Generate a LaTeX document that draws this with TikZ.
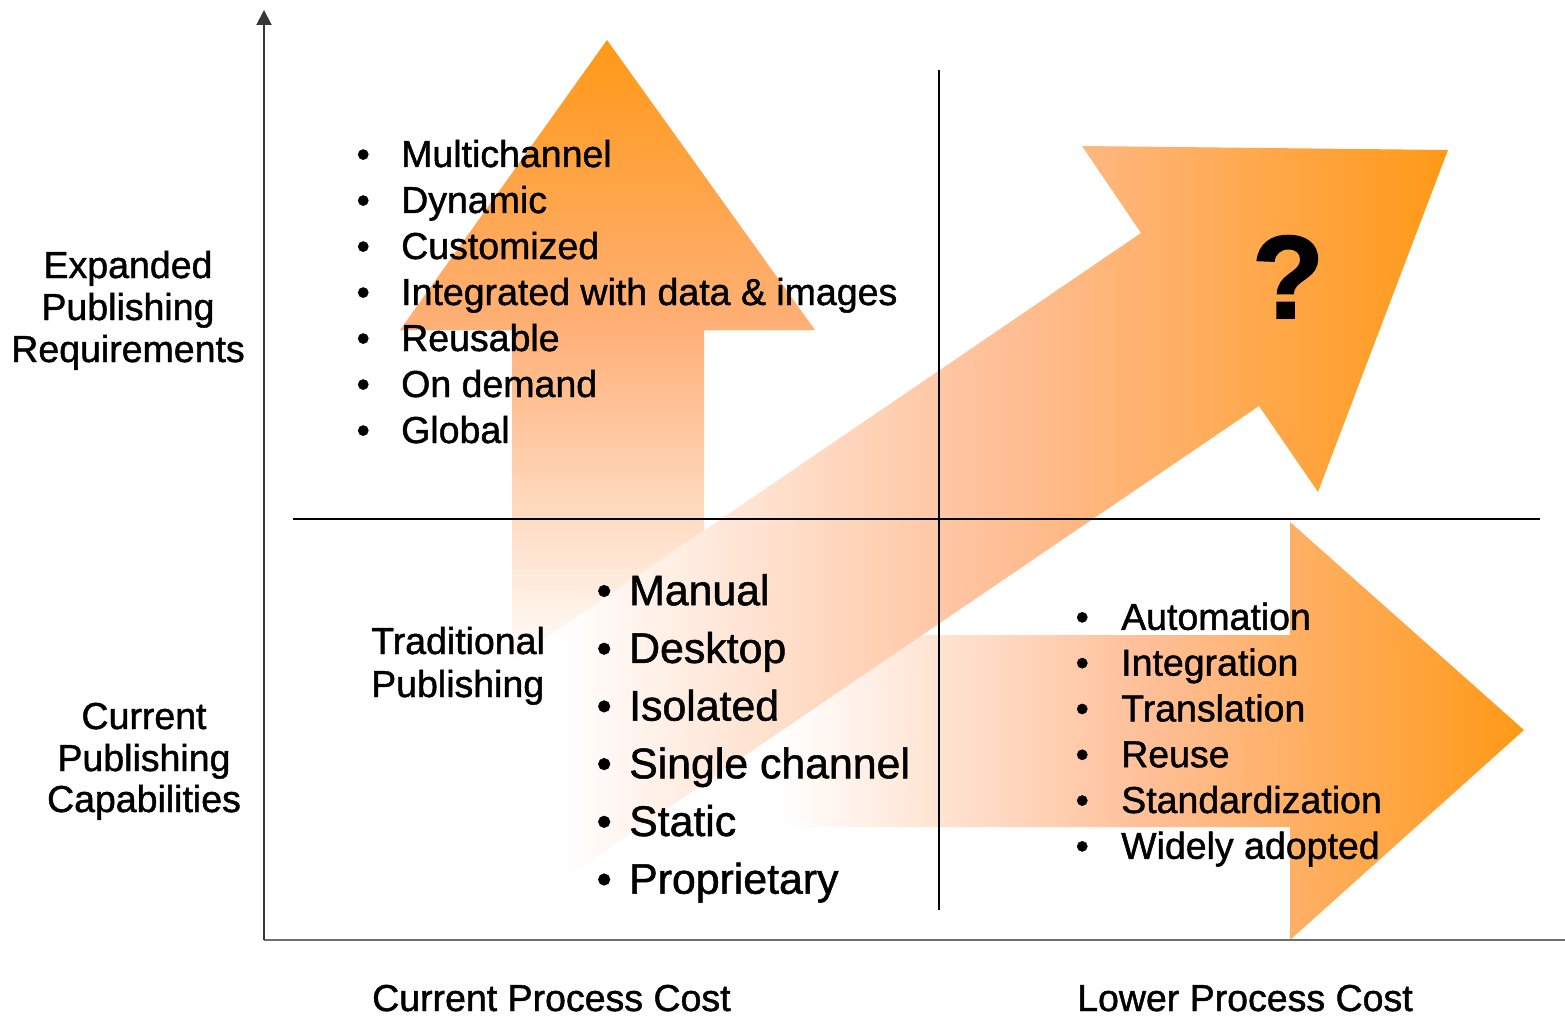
\documentclass[tikz,border=0pt]{standalone}
\usepackage{fontspec}
\setmainfont{Liberation Sans}[FakeBold=1.5]
\newfontfamily\txtfont{Liberation Sans}[FakeBold=1.2]
\usetikzlibrary{arrows.meta}
\definecolor{org}{RGB}{255,153,22}
\definecolor{peach}{RGB}{255,190,150}
\definecolor{orgmid}{RGB}{255,176,120}
\definecolor{axisgray}{RGB}{110,110,110}
\begin{document}
\begin{tikzpicture}[x=1pt,y=-1pt,
  txt/.style={font=\txtfont\fontsize{37.5}{42}\selectfont, inner sep=0pt},
  bigtxt/.style={font=\txtfont\fontsize{42.8}{48}\selectfont, inner sep=0pt},
  qtxt/.style={font=\fontsize{118}{130}\selectfont\bfseries, inner sep=0pt},
  midline/.style={line width=1.5pt, black},
  axisline/.style={line width=2.5pt, axisgray}]
\useasboundingbox (0,0) rectangle (1565,1016);
\fill[white] (0,0) rectangle (1565,1016);

% horizontal arrow (lower right)
\begin{scope}
  \clip (700,635) -- (1290,635) -- (1290,522) -- (1524,730) -- (1290,940) -- (1290,827) -- (700,827) -- cycle;
  \shade[left color=white, right color=org, middle color=peach] (780,500) rectangle (1524,950);
\end{scope}

% vertical arrow (upper left)
\begin{scope}
  \clip (607,40) -- (815,330) -- (704,330) -- (704,760) -- (512,760) -- (512,330) -- (400,330) -- cycle;
  \shade[top color=org, bottom color=orgmid] (390,40) rectangle (830,330);
  \shade[top color=orgmid, bottom color=white] (390,330) rectangle (830,670);
\end{scope}

% diagonal arrow
\begin{scope}
  \clip (515,912) -- (1259,406) -- (1318,492) -- (1448,150) -- (1082,146) -- (1141,233) -- (398,739) -- cycle;
  \fill[white] (390,140) rectangle (1450,920);
  \shade[left color=white, right color=org, middle color=peach] (560,140) rectangle (1448,920);
\end{scope}

% axes and quadrant lines
\coordinate (o) at (264,940);
\coordinate (ytop) at (264,10);
\coordinate (xend) at (1565,940);
\draw[axisline] (o) -- (xend);
\draw[line width=2pt, axisgray!50!black, -{Triangle[length=15pt,width=15pt]}] (o) -- (ytop);
\coordinate (hl) at (293,519);
\coordinate (hr) at (1540,519);
\coordinate (vt) at (939,70);
\coordinate (vb) at (939,910);
\draw[midline] (hl) -- (hr);
\draw[midline] (vt) -- (vb);

% top list
\foreach \t [count=\i] in {Multichannel, Dynamic, Customized, Integrated with data \& images, Reusable, On demand, Global}{
  \node[txt, anchor=base west] (tb\i) at (356.5, 121+46*\i) {•};
  \node[txt, anchor=base west] (t\i) at (401, 121+46*\i) {\t};
}

% lower-left list
\foreach \t [count=\i] in {Manual, Desktop, Isolated, Single channel, Static, Proprietary}{
  \node[bigtxt, anchor=base west] (lb\i) at (596.5, 547.5+57.7*\i) {•};
  \node[bigtxt, anchor=base west] (l\i) at (629, 547.5+57.7*\i) {\t};
}

% right list
\foreach \t [count=\i] in {Automation, Integration, Translation, Reuse, Standardization, Widely adopted}{
  \node[txt, anchor=base west] (rb\i) at (1075.5, 584+45.8*\i) {•};
  \node[txt, anchor=base west] (r\i) at (1121, 584+45.8*\i) {\t};
}

% question mark
\node[qtxt, anchor=base] (q) at (1288,318) {?};

% traditional publishing
\node[txt, anchor=base west] (trad1) at (371,654) {Traditional};
\node[txt, anchor=base west] (trad2) at (371,697) {Publishing};

% y axis labels
\node[txt, anchor=base] (ex1) at (128,278) {Expanded};
\node[txt, anchor=base] (ex2) at (128,320) {Publishing};
\node[txt, anchor=base] (ex3) at (128,362) {Requirements};
\node[txt, anchor=base] (cu1) at (144,729) {Current};
\node[txt, anchor=base] (cu2) at (144,771) {Publishing};
\node[txt, anchor=base] (cu3) at (144,812) {Capabilities};

% x axis labels
\node[txt, anchor=base west] (xc) at (372,1011) {Current Process Cost};
\node[txt, anchor=base west] (xl) at (1077,1011) {Lower Process Cost};
\end{tikzpicture}
\end{document}
